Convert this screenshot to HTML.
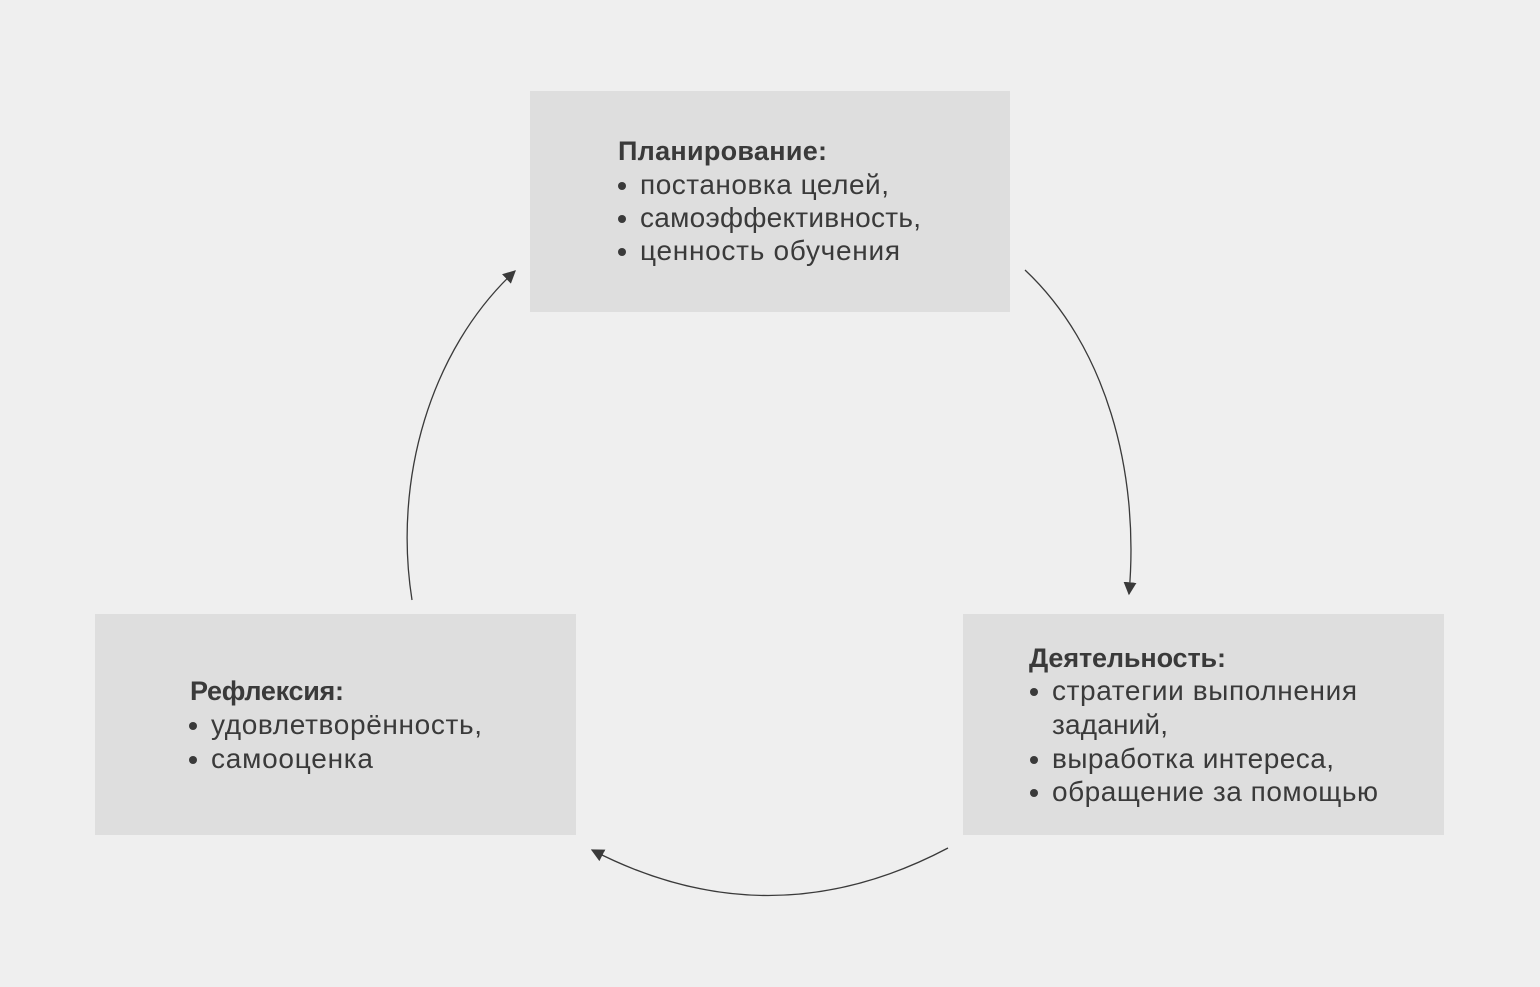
<!DOCTYPE html>
<html><head><meta charset="utf-8"><style>
html,body{margin:0;padding:0;background:#efefef;}
svg{display:block;}
text{font-family:"Liberation Sans",sans-serif;font-size:28px;fill:#3a3a3a;}
.b{font-weight:bold;font-size:27px;}
</style></head><body>
<svg width="1540" height="987" viewBox="0 0 1540 987">
<defs><marker id="a" viewBox="0 0 10 10" refX="9" refY="5" markerWidth="13" markerHeight="13" markerUnits="userSpaceOnUse" orient="auto"><path d="M0,0L10,5L0,10z" fill="#3a3a3a"/></marker></defs>
<rect x="530" y="91" width="480" height="221" fill="#dedede"/>
<rect x="963" y="614" width="481" height="221" fill="#dedede"/>
<rect x="95" y="614" width="481" height="221" fill="#dedede"/>
<g fill="none" stroke="#3a3a3a" stroke-width="1.3">
<path d="M1025 270 C1105 345 1140 470 1129 594" marker-end="url(#a)"/>
<path d="M948 848 Q770 942 592 850" marker-end="url(#a)"/>
<path d="M412 600 C393 480 430 350 515 271" marker-end="url(#a)"/>
</g>
<g fill="#3a3a3a">
<circle cx="622" cy="186" r="4"/><circle cx="622" cy="219" r="4"/><circle cx="622" cy="252" r="4"/>
<circle cx="1034" cy="692" r="4"/><circle cx="1034" cy="760" r="4"/><circle cx="1034" cy="793" r="4"/>
<circle cx="193" cy="726" r="4"/><circle cx="193" cy="760" r="4"/>
</g>
<text class="b" x="618" y="160" textLength="209">Планирование:</text>
<text x="640" y="194" textLength="249">постановка целей,</text>
<text x="640" y="227" textLength="281">самоэффективность,</text>
<text x="640" y="260" textLength="260">ценность обучения</text>

<text class="b" x="1029" y="667" textLength="197">Деятельность:</text>
<text x="1052" y="700" textLength="305">стратегии выполнения</text>
<text x="1052" y="734" textLength="116">заданий,</text>
<text x="1052" y="768" textLength="282">выработка интереса,</text>
<text x="1052" y="801" textLength="326">обращение за помощью</text>

<text class="b" x="190" y="700" textLength="154">Рефлексия:</text>
<text x="211" y="734" textLength="271">удовлетворённость,</text>
<text x="211" y="768" textLength="162">самооценка</text>
</svg>
</body></html>
